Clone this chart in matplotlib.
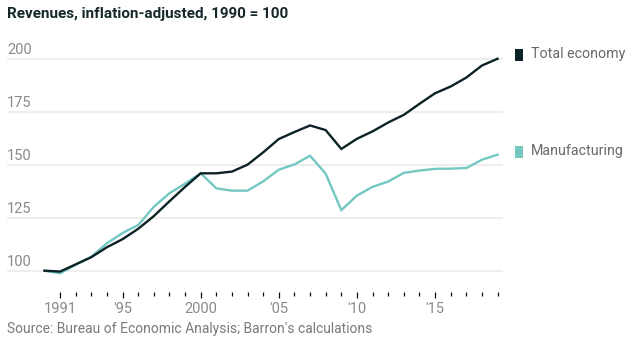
import matplotlib
matplotlib.use("Agg")
import matplotlib.pyplot as plt
from matplotlib.ticker import FixedLocator

plt.rcParams['font.family'] = ['Roboto', 'DejaVu Sans']

years = list(range(1990, 2020))
total_economy = [100.0, 99.6, 103.0, 106.4, 111.1, 114.9, 119.8, 125.8, 132.8, 139.6, 146.0,
                 146.0, 146.8, 150.1, 155.9, 162.2, 165.5, 168.6, 166.4, 157.5, 162.3,
                 165.8, 170.0, 173.6, 178.8, 183.8, 187.0, 191.2, 196.9, 200.1]
manufacturing = [100.0, 98.8, 102.8, 106.6, 113.0, 117.8, 121.6, 130.2, 136.6, 141.1, 146.0,
                 138.9, 137.8, 137.8, 142.2, 147.7, 150.2, 154.3, 145.8, 128.6, 135.5,
                 139.6, 142.1, 146.2, 147.3, 148.1, 148.2, 148.5, 152.4, 154.8]

series_names = ["Total economy", "Manufacturing"]
colors = ["#0c2225", "#74c8c1"]
y_ticks = [100, 125, 150, 175, 200]
major_years = [1991, 1995, 2000, 2005, 2010, 2015]
major_labels = ["1991", "'95", "2000", "'05", "'10", "'15"]
minor_years = list(range(1991, 2020))

title = "Revenues, inflation-adjusted, 1990 = 100"
source = "Source: Bureau of Economic Analysis; Barron's calculations"

W, H = 639, 352
fig = plt.figure(figsize=(W / 100, H / 100), dpi=100)

ax_left, ax_right, ax_top, ax_bottom = 7, 503, 45, 292
ax = fig.add_axes([ax_left / W, 1 - ax_bottom / H, (ax_right - ax_left) / W, (ax_bottom - ax_top) / H])

ax.set_xlim(1987.6, 2019.35)
ax.set_ylim(89.94, 206.6)

for s in ax.spines.values():
    s.set_visible(False)

for v in y_ticks:
    ax.axhline(v, color="#eeeeee", lw=1.6, zorder=1)
    ax.annotate(str(v), xy=(0, v), xycoords=ax.get_yaxis_transform(),
                xytext=(0, 3.5), textcoords="offset points",
                ha="left", va="baseline", fontsize=10.5, color="#8a8a8a")

ax.set_yticks([])

ax.plot(years, total_economy, color=colors[0], lw=1.7, zorder=3, solid_joinstyle="miter")
ax.plot(years, manufacturing, color=colors[1], lw=1.7, zorder=2, solid_joinstyle="miter")

ax.xaxis.set_major_locator(FixedLocator(major_years))
ax.set_xticklabels(major_labels)
ax.xaxis.set_minor_locator(FixedLocator(minor_years))
ax.tick_params(axis="x", which="major", length=4.0, width=0.9, color="#111111",
               pad=3.5, labelsize=10.5, labelcolor="#8a8a8a")
ax.tick_params(axis="x", which="minor", length=2.6, width=0.9, color="#111111")

# Title and source
fig.text(7 / W, 1 - 14 / H, title, ha="left", va="center", fontsize=11,
         fontweight="bold", color="#16282a")
fig.text(7 / W, 1 - 329 / H, source, ha="left", va="center", fontsize=10,
         color="#7a7a7a")

# Legend labels at right
legend_y = [54, 151]
for name, col, ypx in zip(series_names, colors, legend_y):
    fig.patches.append(plt.Rectangle((515 / W, 1 - (ypx + 6.5) / H), 8 / W, 12 / H,
                                     transform=fig.transFigure, facecolor=col,
                                     edgecolor="none"))
    fig.text(531 / W, 1 - ypx / H, name, ha="left", va="center", fontsize=10.3,
             color="#6a6a6a")

fig.savefig("out.png", dpi=100)
